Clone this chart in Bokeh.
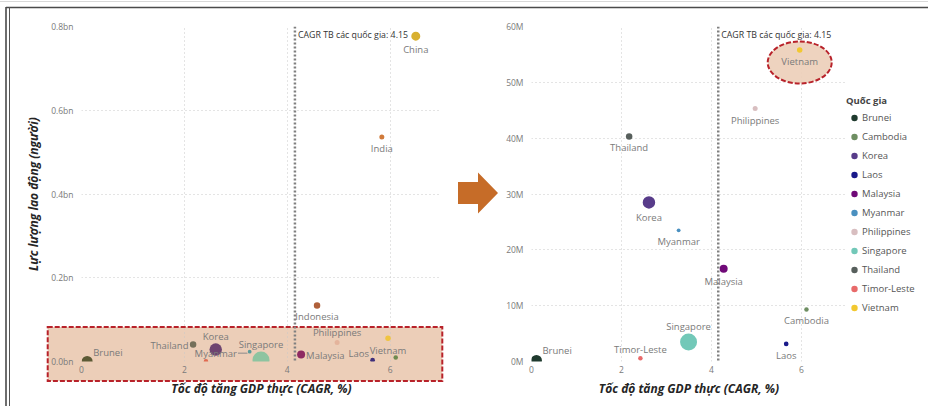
from urllib.parse import quote
from bokeh.plotting import figure
from bokeh.models import (Range1d, FixedTicker, Span, Label, Legend, LegendItem,
                          ColumnDataSource)
from bokeh.layouts import row
from bokeh.embed import file_html
from bokeh.resources import INLINE
from bokeh.core.properties import value

# ---------------- data ----------------
countries = ["Brunei", "Cambodia", "Korea", "Laos", "Malaysia", "Myanmar",
             "Philippines", "Singapore", "Thailand", "Timor-Leste", "Vietnam"]
cagr = [0.11, 6.11, 2.61, 5.66, 4.27, 3.27, 4.97, 3.49, 2.17, 2.42, 5.96]
labour_m = [0.2, 9.3, 28.5, 3.15, 16.6, 23.5, 45.3, 3.5, 40.3, 0.6, 55.8]
bubble = [11, 4.5, 12.5, 4.7, 8, 3.8, 5, 17, 6.5, 4.5, 5.5]

extra_countries = ["China", "India", "Indonesia"]
extra_cagr = [6.50, 5.84, 4.58]
extra_labour_m = [777, 536, 134]
extra_bubble = [9, 5, 6.5]

avg_cagr = 4.15
x_ticks = [0, 2, 4, 6]
left_y_ticks = [0, 0.2e9, 0.4e9, 0.6e9, 0.8e9]
left_y_labels = ["0.0bn", "0.2bn", "0.4bn", "0.6bn", "0.8bn"]
right_y_ticks = [0, 10e6, 20e6, 30e6, 40e6, 50e6, 60e6]
right_y_labels = ["0M", "10M", "20M", "30M", "40M", "50M", "60M"]

# ---------------- styles ----------------
FONT = "Open Sans"
TOTAL_W, H = 928, 406
W_L = 458
W_LEG = 82
W_R = TOTAL_W - W_L - W_LEG
MB_TOP, MB_BOTTOM = 26, 45
X_RANGE = (0, 7)

right_colors = {
    "Brunei": "#1F3A2E", "Cambodia": "#6E8E62", "Korea": "#583C8A", "Laos": "#1A1A8A",
    "Malaysia": "#700A78", "Myanmar": "#4A90C0", "Philippines": "#D8BEC0",
    "Singapore": "#72C8B8", "Thailand": "#575F5C", "Timor-Leste": "#E86A6A",
    "Vietnam": "#F2C830",
}
left_colors = {
    "China": "#D8B030", "India": "#D07A3A", "Indonesia": "#B0603A",
    "Philippines": "#E4B49C", "Vietnam": "#F0C440", "Cambodia": "#6E8A4E",
    "Laos": "#3F2F7A", "Malaysia": "#8E2A62", "Singapore": "#8DC4A0",
    "Myanmar": "#5A9A9A", "Korea": "#6E4470", "Thailand": "#75705A",
    "Timor-Leste": "#E06A50", "Brunei": "#5C5A35",
}
# label placement: (align, dx px, dy px downwards)
left_label_pos = {
    "China": ("center", 0, 13), "India": ("center", 0, 11), "Indonesia": ("center", 0, 11.5),
    "Philippines": ("center", 0, -10), "Vietnam": ("center", 0, 12),
    "Laos": ("right", -3.5, -7), "Malaysia": ("left", 5, 1), "Singapore": ("center", 0, -15.5),
    "Myanmar": ("right", -12.7, 1.7), "Korea": ("center", 0, -13),
    "Thailand": ("right", -4.6, 1), "Brunei": ("left", 6, -9),
}
right_label_pos = {
    "Vietnam": ("center", 0, 12), "Philippines": ("center", 0, 11.5),
    "Thailand": ("center", 0, 11.5), "Korea": ("center", 0, 15),
    "Myanmar": ("center", 0, 11), "Malaysia": ("center", 0, 13),
    "Cambodia": ("center", 0, 11), "Singapore": ("center", 0, -15),
    "Laos": ("center", 0, 11.5), "Timor-Leste": ("center", 0, -8.5),
    "Brunei": ("left", 6, -9.5),
}
BOX_FILL = "#ECCEB8"
RED = "#B8222A"
LABEL_COLOR = "#7a7a7a"

# decorative page background: frame lines, highlight box, arrow between panels
DECOR_SVG = (
    "<svg xmlns='http://www.w3.org/2000/svg' width='928' height='406'>"
    "<rect width='928' height='406' fill='white'/>"
    "<line x1='0' y1='1.5' x2='928' y2='1.5' stroke='#d8d8d8' stroke-width='1'/>"
    "<line x1='6' y1='7.5' x2='928' y2='7.5' stroke='#4a4a4a' stroke-width='1.5'/>"
    "<line x1='6' y1='7' x2='6' y2='406' stroke='#4a4a4a' stroke-width='1.6'/>"
    "<line x1='9.5' y1='7' x2='9.5' y2='406' stroke='#555555' stroke-width='1'/>"
    f"<rect x='47.7' y='327' width='394.6' height='54' fill='{BOX_FILL}' stroke='{RED}' "
    "stroke-width='2' stroke-dasharray='5 2'/>"
    "<polygon points='458,182 478,182 478,172.5 498,193 478,213.5 478,204 458,204' fill='#C66C28'/>"
    "</svg>"
)


def base_fig(width, y_end, mb_left, mb_right, y_ticks, y_labels, ylabel):
    p = figure(width=width, height=H, x_range=Range1d(*X_RANGE), y_range=Range1d(0, y_end),
               output_backend="svg", toolbar_location=None,
               min_border_left=mb_left, min_border_right=mb_right,
               min_border_top=MB_TOP, min_border_bottom=MB_BOTTOM)
    p.outline_line_color = None
    p.background_fill_color = None
    p.border_fill_color = None
    p.xaxis.ticker = FixedTicker(ticks=x_ticks)
    p.yaxis.ticker = FixedTicker(ticks=y_ticks)
    p.yaxis.major_label_overrides = {t: l for t, l in zip(y_ticks, y_labels)}
    for ax in (p.xaxis[0], p.yaxis[0]):
        ax.axis_line_color = None
        ax.major_tick_line_color = None
        ax.minor_tick_line_color = None
        ax.major_tick_out = 0
        ax.major_tick_in = 0
        ax.major_label_text_font = FONT
        ax.major_label_text_font_size = "8.5px"
        ax.major_label_text_color = "#7a7a7a"
        ax.axis_label_text_font = FONT
        ax.axis_label_text_font_size = "12px"
        ax.axis_label_text_font_style = "bold italic"
        ax.axis_label_text_color = "#252525"
    p.xaxis.major_label_standoff = 4
    p.xaxis.axis_label_standoff = 4
    p.yaxis.major_label_standoff = 8
    p.yaxis.axis_label_standoff = 6
    p.xaxis.axis_label = "Tốc độ tăng GDP thực (CAGR, %)"
    if ylabel:
        p.yaxis.axis_label = ylabel
    for g in (p.xgrid[0], p.ygrid[0]):
        g.grid_line_color = "#c8c8c8"
        g.grid_line_dash = "1 3"
        g.grid_line_width = 1
    p.add_layout(Span(location=avg_cagr, dimension="height", line_color="#808080",
                      line_width=2.5, line_dash="2 2"))
    p.add_layout(Label(x=avg_cagr, y=y_end, x_offset=3, y_offset=-8,
                       text=f"CAGR TB các quốc gia: {avg_cagr}",
                       text_font=FONT, text_font_size="8.8px", text_color="#333333",
                       text_baseline="middle", text_align="left"))
    return p


def label_source(names, xs, ys, pos):
    d = dict(x=[], y=[], text=[], align=[], dx=[], dy=[])
    for n, x, y in zip(names, xs, ys):
        if n in pos:
            a, dx, dy = pos[n]
            d["x"].append(x); d["y"].append(y); d["text"].append(n)
            d["align"].append(a); d["dx"].append(dx); d["dy"].append(dy)
    return ColumnDataSource(d)


# ---------------- left chart ----------------
L_names = extra_countries + countries
L_x = extra_cagr + cagr
L_y = [v * 1e6 for v in extra_labour_m + labour_m]
L_size = extra_bubble + bubble
L_y_end = 0.8e9
MB_L1, MB_R1 = 81, 17

p1 = base_fig(W_L, L_y_end, MB_L1, MB_R1, left_y_ticks, left_y_labels, "Lực lượng lao động (người)")
frame_w1 = W_L - MB_L1 - MB_R1
frame_h = H - MB_TOP - MB_BOTTOM
src1 = ColumnDataSource(dict(x=L_x, y=L_y, size=L_size, color=[left_colors[n] for n in L_names]))
p1.scatter("x", "y", size="size", fill_color="color", line_color=None, source=src1)
# Myanmar leader line
px_x1 = (X_RANGE[1] - X_RANGE[0]) / frame_w1
px_y1 = L_y_end / frame_h
mi = L_names.index("Myanmar")
p1.segment(x0=[L_x[mi] - 11.7 * px_x1], y0=[L_y[mi] - 1.5 * px_y1],
           x1=[L_x[mi] - 2.2 * px_x1], y1=[L_y[mi] - 1.5 * px_y1],
           line_color="#8a8a8a", line_width=1)
p1.text("x", "y", text="text", source=label_source(L_names, L_x, L_y, left_label_pos),
        x_offset="dx", y_offset="dy", text_align="align", text_baseline="middle",
        text_font=value(FONT), text_font_size="9.5px", text_color=LABEL_COLOR)

# ---------------- right chart ----------------
R_y = [v * 1e6 for v in labour_m]
R_y_end = 60e6
MB_L2, MB_R2 = 73, 0
p2 = base_fig(W_R, R_y_end, MB_L2, MB_R2, right_y_ticks, right_y_labels, None)
px_y2 = R_y_end / frame_h
vi = countries.index("Vietnam")
p2.ellipse(x=[cagr[vi]], y=[R_y[vi] - 12.5 * px_y2], width=64, height=42,
           width_units="screen", height_units="screen",
           fill_color=BOX_FILL, fill_alpha=0.9, line_color=RED, line_width=2,
           line_dash="5 2")
src2 = ColumnDataSource(dict(x=cagr, y=R_y, size=bubble, color=[right_colors[n] for n in countries]))
p2.scatter("x", "y", size="size", fill_color="color", line_color=None, source=src2)
p2.text("x", "y", text="text", source=label_source(countries, cagr, R_y, right_label_pos),
        x_offset="dx", y_offset="dy", text_align="align", text_baseline="middle",
        text_font=value(FONT), text_font_size="9.5px", text_color=LABEL_COLOR)

# ---------------- legend panel (same data source, points kept out of view) ----------------
pl = figure(width=W_LEG, height=H, x_range=Range1d(100, 101), y_range=Range1d(100, 101),
            x_axis_type=None, y_axis_type=None, min_border=0,
            output_backend="svg", toolbar_location=None)
pl.outline_line_color = None
pl.background_fill_color = None
pl.border_fill_color = None
rl = pl.scatter("x", "y", size="size", fill_color="color", line_color=None, source=src2)
legend = Legend(items=[LegendItem(label=n, renderers=[rl], index=i) for i, n in enumerate(countries)],
                location=(0, 44), title="Quốc gia",
                title_text_font=FONT, title_text_font_size="9.5px", title_text_font_style="bold",
                title_text_color="#444444", title_standoff=1,
                label_text_font=FONT, label_text_font_size="9.5px", label_text_color="#555555",
                glyph_width=16, glyph_height=19, label_height=19, spacing=0,
                label_standoff=0, padding=0, margin=0,
                border_line_color=None, background_fill_alpha=0)
pl.add_layout(legend)

layout = row(p1, p2, pl, styles={
    "background-image": 'url("data:image/svg+xml;utf8,' + quote(DECOR_SVG) + '")',
    "background-repeat": "no-repeat",
    "background-size": "928px 406px",
})
open("out.html", "w").write(file_html(layout, INLINE))
